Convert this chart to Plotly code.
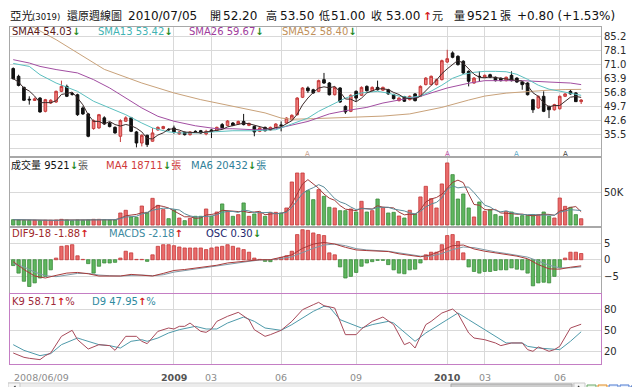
import plotly.graph_objects as go
import pandas as pd

# ---------------- data (weekly bars, 2008/06/09 .. 2010/07/05) ----------------
opens = [
    68.9, 65.0, 59.4, 53.4, 52.8, 54.0, 47.3, 51.5, 52.0, 57.4,
    59.9, 56.3, 55.7, 49.0, 46.0, 38.6, 38.9, 44.0, 41.4, 39.2,
    34.7, 42.3, 44.0, 36.9, 31.3, 35.2, 32.2, 37.9, 38.6, 38.2,
    38.9, 35.9, 36.7, 35.5, 37.2, 37.5, 35.9, 37.9, 37.6, 40.6,
    40.2, 41.4, 40.9, 42.2, 40.2, 39.7, 37.2, 39.2, 37.9, 39.2,
    40.4, 41.4, 43.0, 45.6, 54.4, 59.1, 58.2, 57.4, 63.3, 61.6,
    55.7, 59.1, 49.8, 47.3, 57.4, 55.4, 59.9, 57.7, 59.4, 58.0,
    58.2, 55.7, 52.7, 54.7, 53.2, 56.1, 54.9, 60.8, 60.8, 60.8,
    63.3, 72.2, 76.8, 75.1, 72.6, 67.5, 61.6, 65.0, 64.5, 65.8,
    64.5, 64.0, 62.8, 65.5, 64.1, 62.1, 61.6, 53.2, 49.0, 54.9,
    49.8, 48.1, 48.6, 54.9, 57.4, 56.6, 52.2]
highs = [
    69.5, 65.8, 59.8, 54.9, 54.3, 54.5, 53.6, 53.4, 57.8, 62.8,
    60.8, 57.0, 56.2, 49.8, 46.5, 43.2, 46.0, 44.8, 41.9, 39.7,
    43.3, 44.8, 44.5, 37.4, 35.7, 35.5, 38.9, 39.7, 40.0, 38.7,
    40.1, 37.3, 37.1, 37.3, 37.7, 37.9, 38.0, 38.3, 39.6, 41.4,
    42.9, 41.9, 42.6, 46.0, 41.6, 40.1, 39.3, 39.6, 39.6, 41.3,
    42.2, 44.3, 45.8, 54.5, 59.6, 59.9, 58.7, 63.3, 66.7, 62.1,
    59.9, 59.5, 50.3, 55.9, 57.9, 59.9, 60.4, 59.9, 62.8, 59.8,
    58.7, 56.2, 54.4, 55.1, 55.3, 56.5, 60.4, 64.6, 65.4, 63.8,
    73.4, 78.4, 77.6, 75.6, 73.1, 68.0, 64.6, 67.5, 65.9, 66.3,
    64.9, 64.4, 64.9, 67.5, 64.5, 62.5, 62.0, 53.6, 55.3, 57.4,
    50.2, 51.1, 55.3, 56.5, 58.2, 57.0, 53.5]
lows = [
    63.3, 59.9, 52.5, 50.7, 52.5, 46.6, 46.8, 51.0, 51.6, 57.0,
    54.5, 55.2, 45.0, 45.5, 34.2, 38.0, 38.5, 40.5, 39.2, 36.0,
    31.8, 41.9, 36.8, 29.1, 29.6, 29.3, 32.0, 37.5, 38.2, 37.5,
    36.0, 35.5, 35.1, 35.1, 36.6, 36.0, 35.2, 33.8, 37.2, 38.6,
    39.8, 39.8, 40.5, 40.2, 39.8, 34.7, 36.8, 37.1, 37.5, 38.8,
    37.2, 41.0, 42.9, 45.2, 54.0, 56.6, 56.2, 57.0, 61.2, 55.3,
    55.3, 51.6, 46.0, 46.9, 52.4, 55.0, 57.3, 57.3, 57.8, 57.6,
    55.7, 53.3, 52.3, 52.0, 52.8, 52.3, 54.5, 60.4, 60.5, 60.4,
    62.9, 71.7, 74.1, 70.4, 66.2, 59.9, 61.2, 62.5, 64.1, 64.1,
    62.4, 62.4, 62.4, 62.4, 61.7, 58.2, 55.3, 46.5, 48.6, 46.9,
    43.9, 47.7, 48.2, 54.5, 55.7, 52.0, 51.0]
closes = [
    63.8, 60.4, 52.9, 53.1, 53.6, 47.0, 53.2, 52.9, 57.4, 59.9,
    54.9, 55.9, 45.6, 46.0, 34.7, 42.6, 45.6, 40.9, 39.6, 36.4,
    42.6, 44.0, 37.2, 31.3, 35.2, 30.5, 36.4, 39.2, 39.6, 38.0,
    36.9, 36.9, 35.5, 36.9, 37.0, 36.4, 37.2, 37.2, 39.2, 39.0,
    42.4, 40.2, 42.2, 40.6, 41.2, 36.9, 38.9, 37.5, 39.2, 40.9,
    40.2, 43.9, 45.3, 54.0, 59.1, 57.7, 56.6, 62.8, 61.6, 55.7,
    59.4, 52.0, 47.0, 55.4, 54.0, 59.4, 57.7, 59.4, 58.2, 59.4,
    56.1, 53.7, 54.0, 52.4, 54.9, 52.7, 59.9, 64.1, 65.0, 63.3,
    72.9, 73.9, 74.6, 70.9, 66.7, 62.5, 64.1, 64.8, 65.5, 64.5,
    62.8, 62.8, 64.5, 62.8, 62.1, 60.8, 55.7, 48.1, 54.9, 47.3,
    48.1, 50.7, 54.9, 56.1, 56.1, 52.2, 53.0]
volume_k = [
    8.1, 7.6, 7.1, 7.1, 7.1, 6.6, 7.1, 7.1, 7.6, 8.6,
    7.6, 6.6, 7.6, 7.1, 7.6, 8.6, 8.6, 8.1, 7.6, 7.6,
    18.2, 22.3, 12.2, 11.6, 28.8, 19.2, 40.4, 29.8, 23.3, 9.6,
    22.8, 10.6, 6.6, 10.1, 13.2, 13.2, 24.3, 13.2, 19.7, 31.9,
    20.7, 13.2, 15.7, 33.4, 13.2, 16.7, 19.2, 13.2, 19.2, 19.2,
    18.2, 25.8, 65.2, 78.8, 78.8, 52.1, 38.4, 53.6, 43.5, 26.8,
    25.8, 21.7, 21.7, 24.3, 19.7, 35.9, 19.7, 21.7, 39.4, 26.8,
    18.2, 19.2, 13.7, 10.6, 22.3, 16.7, 42.5, 58.6, 39.9, 25.8,
    62.2, 94.0, 76.3, 39.4, 47.0, 25.8, 12.2, 34.9, 20.7, 23.3,
    15.7, 13.2, 20.7, 19.7, 11.6, 14.2, 14.2, 15.7, 15.7, 19.7,
    13.2, 10.6, 40.9, 28.3, 26.8, 15.7, 9.521]
osc = [
    -1.8, -4.1, -6.6, -8.2, -7.1, -5.6, -5.1, -3.1, 0.5, 4.1,
    4.3, 4.6, 1.2, 0.1, -1.2, -4.1, -2.0, -1.0, -1.0, -0.8,
    0.5, 2.6, 2.1, 0.1, 0.1, -0.5, 1.5, 4.1, 4.6, 4.6,
    4.3, 3.9, 3.6, 3.6, 3.6, 3.6, 3.1, 3.6, 3.9, 4.1,
    4.6, 4.1, 3.6, 3.1, 2.3, 0.5, 0.1, -0.5, -0.6, 0.1,
    0.7, 1.2, 2.6, 7.7, 9.2, 9.0, 8.2, 7.7, 7.4, 2.1,
    1.5, -2.2, -5.6, -5.1, -3.9, -2.0, -1.0, -0.6, -0.2, -0.2,
    -1.5, -3.1, -4.1, -4.3, -3.1, -2.9, -1.0, 1.5, 2.3, 2.3,
    4.6, 7.4, 7.7, 5.6, 2.1, -2.2, -3.6, -4.1, -3.6, -3.6,
    -3.3, -3.1, -3.1, -2.5, -2.9, -3.1, -4.1, -8.0, -7.1, -6.9,
    -7.1, -5.1, -2.5, 0.5, 2.3, 2.3, 1.9]

macd_idx = list(range(0, 107, 2))
dif = [-0.6, -3.0, -5.0, -5.6, -4.8, -4.1, -3.9, -4.3, -5.0, -5.0,
       -5.0, -4.5, -4.7, -5.0, -4.2, -3.3, -3.0, -2.6, -2.1, -1.7,
       -1.0, -0.6, -0.2, 0.0, 0.0, 0.7, 1.5, 3.5, 4.8, 5.3,
       4.8, 3.8, 3.0, 2.8, 2.7, 2.5, 1.8, 1.4, 0.9, 1.5,
       2.8, 4.3, 4.5, 3.3, 2.6, 2.1, 1.6, 1.1, 0.3, -1.5,
       -2.8, -2.9, -2.3, -1.88]
macds = [-1.2, -2.2, -3.8, -4.9, -5.2, -4.6, -4.2, -4.2, -4.7, -4.9,
         -5.0, -4.8, -4.7, -4.9, -4.6, -3.8, -3.3, -2.9, -2.4, -2.0,
         -1.4, -0.9, -0.5, -0.1, 0.0, 0.4, 0.9, 2.2, 3.5, 4.5,
         4.8, 4.3, 3.4, 3.0, 2.8, 2.6, 2.1, 1.6, 1.1, 1.1,
         1.9, 3.1, 3.9, 3.7, 3.0, 2.4, 1.9, 1.4, 0.8, -0.4,
         -1.7, -2.5, -2.5, -2.18]

k_idx = [0, 2, 3, 5, 6, 7, 9, 11, 12, 14, 16, 18, 19, 21, 23, 24, 25, 27, 29, 30,
         31, 32, 33, 35, 36, 37, 38, 40, 42, 44, 45, 47, 48, 50, 52, 54, 56, 57, 58, 60,
         62, 64, 65, 67, 69, 71, 73, 74, 75, 77, 78, 80, 82, 83, 85, 86, 88, 90, 91, 93,
         95, 96, 97, 98, 99, 100, 101, 102, 104, 106]
k_val = [17.6, 11.4, 10.0, 8.1, 13.8, 17.6, 41.4, 50.0, 36.6, 23.3, 29.5, 28.1, 21.4, 41.4, 41.4, 34.3, 30.9, 48.5, 53.3, 51.9,
         55.7, 55.7, 60.4, 48.5, 47.1, 51.9, 62.8, 70.0, 75.7, 65.2, 50.9, 41.4, 43.8, 50.0, 62.8, 79.5, 86.6, 90.0, 85.2, 81.9,
         43.8, 43.8, 51.9, 62.8, 69.0, 58.1, 29.5, 32.8, 24.7, 58.1, 62.8, 74.7, 80.4, 73.8, 46.2, 39.0, 36.6, 31.9, 28.1, 31.9,
         31.9, 22.4, 20.0, 26.2, 23.3, 20.0, 22.4, 27.1, 53.3, 58.71]
d_idx = [0, 2, 5, 7, 9, 12, 13, 16, 18, 20, 22, 24, 25, 27, 29, 31, 34, 36, 38, 40,
         43, 45, 47, 50, 52, 54, 56, 58, 59, 61, 64, 65, 67, 70, 71, 73, 75, 77, 80, 82,
         83, 85, 87, 90, 92, 95, 96, 98, 102, 104, 106]
d_val = [29.5, 21.4, 13.8, 16.7, 29.5, 39.0, 36.6, 29.5, 28.1, 24.7, 34.3, 36.6, 34.3, 39.0, 46.2, 50.9, 55.7, 51.9, 51.9, 60.4,
         69.0, 62.8, 53.3, 50.0, 58.1, 67.6, 77.1, 84.3, 83.3, 65.2, 55.7, 53.3, 58.1, 62.8, 60.4, 47.1, 34.3, 46.2, 60.4, 70.0,
         74.7, 65.2, 55.7, 41.4, 31.9, 31.9, 27.1, 24.7, 22.4, 34.3, 47.95]

sma13_idx = [0, 3, 5, 8, 12, 15, 18, 21, 24, 26, 29, 31, 34, 36, 39, 41, 45, 49, 52, 55,
             57, 60, 62, 65, 68, 70, 72, 74, 76, 78, 80, 82, 84, 86, 88, 90, 92, 94, 96, 98,
             100, 102, 104, 106]
sma13_val = [71.5, 70.0, 65.8, 61.6, 57.4, 52.4, 49.0, 45.6, 41.4, 38.9, 36.9, 36.4, 36.4, 36.7, 37.5, 37.5, 37.5, 38.0, 40.9, 43.9,
             47.3, 51.5, 54.0, 56.6, 57.4, 56.5, 55.0, 54.3, 55.0, 57.5, 60.5, 64.0, 66.0, 67.0, 67.5, 67.5, 67.3, 66.0, 63.5, 60.5,
             58.5, 57.5, 56.5, 55.4]
sma26_idx = [0, 3, 5, 8, 12, 15, 18, 21, 24, 27, 30, 34, 38, 41, 45, 49, 52, 55, 59, 62,
             66, 69, 73, 76, 81, 85, 88, 95, 100, 104, 106]
sma26_val = [73.4, 71.7, 70.0, 68.4, 66.7, 63.3, 59.1, 54.0, 49.0, 44.8, 42.3, 40.0, 38.5, 38.5, 38.0, 38.5, 40.2, 42.2, 46.0, 47.6,
             49.3, 51.5, 53.5, 54.9, 59.1, 61.5, 62.8, 62.8, 62.1, 61.6, 60.8]
sma52_idx = [0, 4, 8, 12, 17, 24, 30, 35, 40, 47, 50, 52, 56, 60, 64, 69, 74, 80, 85, 88,
             92, 96, 100, 103, 106]
sma52_val = [94.0, 89.4, 83.5, 77.0, 68.5, 61.6, 56.6, 53.2, 50.5, 46.5, 43.9, 43.3, 43.6, 43.9, 44.3, 44.9, 46.0, 49.3, 53.0, 55.0,
             56.5, 57.4, 58.0, 58.3, 58.4]

price_ticks = [28.4, 35.5, 42.6, 49.7, 56.8, 63.9, 71.0, 78.1, 85.2]
price_tick_text = ["", "35.5", "42.6", "49.7", "56.8", "63.9", "71.0", "78.1", "85.2"]
vol_ticks = [50]
vol_tick_text = ["50K"]
macd_ticks = [-5, 0, 5]
kd_ticks = [20, 50, 80]

first_label = "2008/06/09"
month_idx = [30, 37, 50, 64, 81, 88, 102]
month_txt = ["2009", "03", "06", "09", "2010", "03", "06"]

signal_idx = [55, 81, 94, 103]

sma_names = ["SMA4", "SMA13", "SMA26", "SMA52"]
sma_last = [54.03, 53.42, 59.67, 58.40]
vol_last = [9521, 18711, 20432]
macd_last = [-1.88, -2.18, 0.30]
kd_last = [58.71, 47.95]

# ---------------- layout helpers ----------------
FONT = "DejaVu Sans, Noto Sans CJK TC, sans-serif"
W, H = 640, 387
ML, MR, MT, MB = 2, 47, 19, 31
PW = W - ML - MR
PH = H - MT - MB


def pxx(x):
    return (x - ML) / PW


def pyy(y):
    return (H - MB - y) / PH


idx = list(range(len(closes)))
up = [c >= o for o, c in zip(opens, closes)]
RED_F, RED_L = "#ea6b6b", "#c43a3a"
GRN_F, GRN_L = "#5fb65f", "#3b8a3b"
GRID = "#d9d9d9"
BORDER = "#a8a8a8"
PINK = "#c47ec4"

# derived moving averages (computed from the data above)
sma4 = pd.Series(closes).rolling(4, min_periods=1).mean().tolist()
vma4 = pd.Series(volume_k).rolling(4, min_periods=1).mean().tolist()
vma6 = pd.Series(volume_k).rolling(6, min_periods=1).mean().tolist()

fig = go.Figure()

# price panel
fig.add_trace(go.Scatter(x=sma52_idx, y=sma52_val, mode="lines", line=dict(color="#c9a27a", width=1), xaxis="x", yaxis="y"))
fig.add_trace(go.Scatter(x=sma26_idx, y=sma26_val, mode="lines", line=dict(color="#a24ea2", width=1), xaxis="x", yaxis="y"))
fig.add_trace(go.Scatter(x=sma13_idx, y=sma13_val, mode="lines", line=dict(color="#5cc0c0", width=1), xaxis="x", yaxis="y"))
fig.add_trace(go.Candlestick(
    x=idx, open=opens, high=highs, low=lows, close=closes,
    increasing=dict(line=dict(color=RED_L, width=1), fillcolor="#f07c7c"),
    decreasing=dict(line=dict(color="#111111", width=1), fillcolor="#111111"),
    whiskerwidth=0, xaxis="x", yaxis="y"))
fig.add_trace(go.Scatter(x=idx, y=sma4, mode="lines", line=dict(color="#3c2a2a", width=1), xaxis="x", yaxis="y"))

# volume panel
fig.add_trace(go.Bar(x=idx, y=volume_k, width=0.62,
                     marker=dict(color=[RED_F if u else GRN_F for u in up],
                                 line=dict(color=[RED_L if u else GRN_L for u in up], width=0.8)),
                     xaxis="x2", yaxis="y2"))
fig.add_trace(go.Scatter(x=idx, y=vma4, mode="lines", line=dict(color="#a03a3a", width=1), xaxis="x2", yaxis="y2"))
fig.add_trace(go.Scatter(x=idx, y=vma6, mode="lines", line=dict(color="#5b8c9a", width=1), xaxis="x2", yaxis="y2"))

# MACD panel
fig.add_trace(go.Bar(x=idx, y=osc, width=0.62,
                     marker=dict(color=[RED_F if v >= 0 else GRN_F for v in osc],
                                 line=dict(color=[RED_L if v >= 0 else GRN_L for v in osc], width=0.8)),
                     xaxis="x3", yaxis="y3"))
fig.add_trace(go.Scatter(x=macd_idx, y=macds, mode="lines", line=dict(color="#7f9aa6", width=1), xaxis="x3", yaxis="y3"))
fig.add_trace(go.Scatter(x=macd_idx, y=dif, mode="lines", line=dict(color="#a83a3a", width=1), xaxis="x3", yaxis="y3"))

# KD panel
fig.add_trace(go.Scatter(x=d_idx, y=d_val, mode="lines", line=dict(color="#4e9aaa", width=1), xaxis="x4", yaxis="y4"))
fig.add_trace(go.Scatter(x=k_idx, y=k_val, mode="lines", line=dict(color="#a84a5a", width=1), xaxis="x4", yaxis="y4"))

xr = [-0.6, 109.7]
xcommon = dict(range=xr, tickvals=month_idx, showticklabels=False, showgrid=True, gridcolor=GRID,
               gridwidth=1, zeroline=False, showline=True, mirror=True, linecolor=BORDER, linewidth=1,
               ticks="", fixedrange=True)
ycommon = dict(side="right", showgrid=True, gridcolor=GRID, gridwidth=1, zeroline=False, showline=True,
               mirror=True, linecolor=BORDER, linewidth=1, ticks="",
               tickfont=dict(family=FONT, size=10, color="#2a2a2a"), fixedrange=True)

fig.update_layout(
    width=W, height=H, margin=dict(l=ML, r=MR, t=MT, b=MB),
    paper_bgcolor="white", plot_bgcolor="white", showlegend=False,
    font=dict(family=FONT),
    xaxis=dict(**xcommon, anchor="y", rangeslider=dict(visible=False)),
    xaxis2=dict(**xcommon, anchor="y2", matches="x"),
    xaxis3=dict(**xcommon, anchor="y3", matches="x"),
    xaxis4=dict(**{**xcommon, "linecolor": PINK}, anchor="y4", matches="x"),
    yaxis=dict(**ycommon, anchor="x", domain=[pyy(148), pyy(19)], range=[24.74, 89.9],
               tickvals=price_ticks, ticktext=price_tick_text),
    yaxis2=dict(**ycommon, anchor="x2", domain=[pyy(218), pyy(150)], range=[-1.5, 101.5],
                tickvals=vol_ticks, ticktext=vol_tick_text),
    yaxis3=dict(**ycommon, anchor="x3", domain=[pyy(285), pyy(220)], range=[-10.2, 9.72],
                tickvals=macd_ticks),
    yaxis4=dict(**{**ycommon, "linecolor": PINK}, anchor="x4", domain=[0, pyy(286)], range=[1.86, 101.9],
                tickvals=kd_ticks),
)

ann = []


def text(x, y, s, color="#000", size=10, xanchor="left"):
    ann.append(dict(x=pxx(x), y=pyy(y), xref="paper", yref="paper", text=s, showarrow=False,
                    xanchor=xanchor, yanchor="middle", borderpad=0,
                    font=dict(family=FONT, size=size, color=color)))


DN = "<span style='color:#1f8a1f'><b>↓</b></span>"
UPA = "<span style='color:#d42020'><b>↑</b></span>"

# header
o_, h_, l_, c_ = opens[-1], highs[-1], lows[-1], closes[-1]
chg = c_ - closes[-2]
pct = chg / closes[-2] * 100
text(1, 8, "亞光", "#111", 11.5)
text(23, 9, "(3019)", "#111", 8.5)
text(58, 8, "還原週線圖", "#111", 11)
text(119, 8, "2010/07/05", "#111", 12)
text(201, 8, "開", "#111", 11)
text(214, 8, f"{o_:.2f}", "#111", 12)
text(257, 8, "高", "#111", 11)
text(271, 8, f"{h_:.2f}", "#111", 12)
text(310, 8, "低", "#111", 11)
text(322, 8, f"{l_:.2f}", "#111", 12)
text(362, 8, "收", "#111", 11)
text(377, 8, f"{c_:.2f}", "#111", 12)
text(414, 8, "<b>↑</b>", "#d42020", 11)
text(423, 8, "元", "#111", 11)
text(445, 8, "量", "#111", 11)
text(458, 8, f"{vol_last[0]}", "#111", 12)
text(491, 8, "張", "#111", 11)
text(508, 8, f"{chg:+.2f} ({pct:+.2f}%)", "#111", 12)

# panel legends
sma_cols = ["#5a1a1a", "#3fb3b3", "#a03c9c", "#c0905a"]
sma_x = [3, 89, 180, 273]
for n, v, c, x in zip(sma_names, sma_last, sma_cols, sma_x):
    text(x, 24, f"{n} {v:.2f}{DN}", c, 10)

text(2, 157, f"成交量 {vol_last[0]}{DN}<span style='color:#555'>張</span>", "#111", 10)
text(97, 157, f"MA4 {vol_last[1]}{DN}張", "#d03a3a", 10)
text(182, 157, f"MA6 {vol_last[2]}{DN}張", "#2f7f99", 10)

text(3, 225, f"DIF9-18 {macd_last[0]:.2f}{UPA}", "#a02a2a", 10)
text(100, 225, f"MACDS {macd_last[1]:.2f}{UPA}", "#3c8aa0", 10)
text(197, 225, f"OSC {macd_last[2]:.2f}{DN}", "#22286e", 10)

text(3, 293, f"K9 {kd_last[0]:.2f}{UPA}%", "#a02a3a", 10)
text(83, 293, f"D9 {kd_last[1]:.2f}{UPA}%", "#2f8aa0", 10)

# signal markers at bottom of price panel
sig_cols = ["#c8a08a", "#c050a8", "#5aaac8", "#404040"]
for i, c in zip(signal_idx, sig_cols):
    ann.append(dict(x=i, y=26.0, xref="x", yref="y", text="A", showarrow=False, yanchor="middle",
                    font=dict(family=FONT, size=7, color=c)))

# x labels
text(5, 369, first_label, "#8c8c8c", 9.5)
for i, t in zip(month_idx, month_txt):
    bold = len(t) == 4
    ann.append(dict(x=i, y=pyy(369), xref="x4", yref="paper", showarrow=False, yanchor="middle",
                    text=f"<b>{t}</b>" if bold else t,
                    font=dict(family=FONT, size=9.5, color="#555" if bold else "#8c8c8c")))

# scrollbar + toolbar icons
shapes = []


def rect(x0, y0, x1, y1, fill, line, lw=1):
    shapes.append(dict(type="rect", xref="paper", yref="paper", x0=pxx(x0), x1=pxx(x1),
                       y0=pyy(y1), y1=pyy(y0), fillcolor=fill, line=dict(color=line, width=lw), layer="above"))


def tri(x0, x1, xt, yc, col):
    # small arrow glyph for scrollbar buttons (drawn as a path)
    shapes.append(dict(type="path", xref="paper", yref="paper",
                       path=f"M {pxx(x0)} {pyy(yc - 3)} L {pxx(xt)} {pyy(yc)} L {pxx(x1)} {pyy(yc + 3)}",
                       line=dict(color=col, width=1.2), layer="above"))


rect(0, 375, 566, 387, "#ececec", "#d4d4d4")
rect(0, 375, 12, 387, "#f6f6f6", "#c8c8c8")
rect(443, 376, 564, 386, "#cdcdcd", "#a8a8a8")
rect(566, 375, 577, 387, "#f6f6f6", "#c8c8c8")
rect(579, 377, 588, 386, "#eaf6e6", "#6aa86a")
rect(590, 377, 599, 386, "#fff4e0", "#e08a20")
rect(601, 377, 610, 386, "#eef4ff", "#4a78d0")
rect(612, 377, 621, 386, "#eef4ff", "#4a78d0")
rect(623, 378, 630, 386, "white", "#3a68c0")
rect(632, 377, 639, 386, "#f0d0c0", "#c04020")
tri(7.5, 7.5, 4.5, 381, "#333")
tri(570, 570, 573, 381, "#333")
fig.update_layout(shapes=shapes, annotations=ann)

fig.write_html("out.html")
